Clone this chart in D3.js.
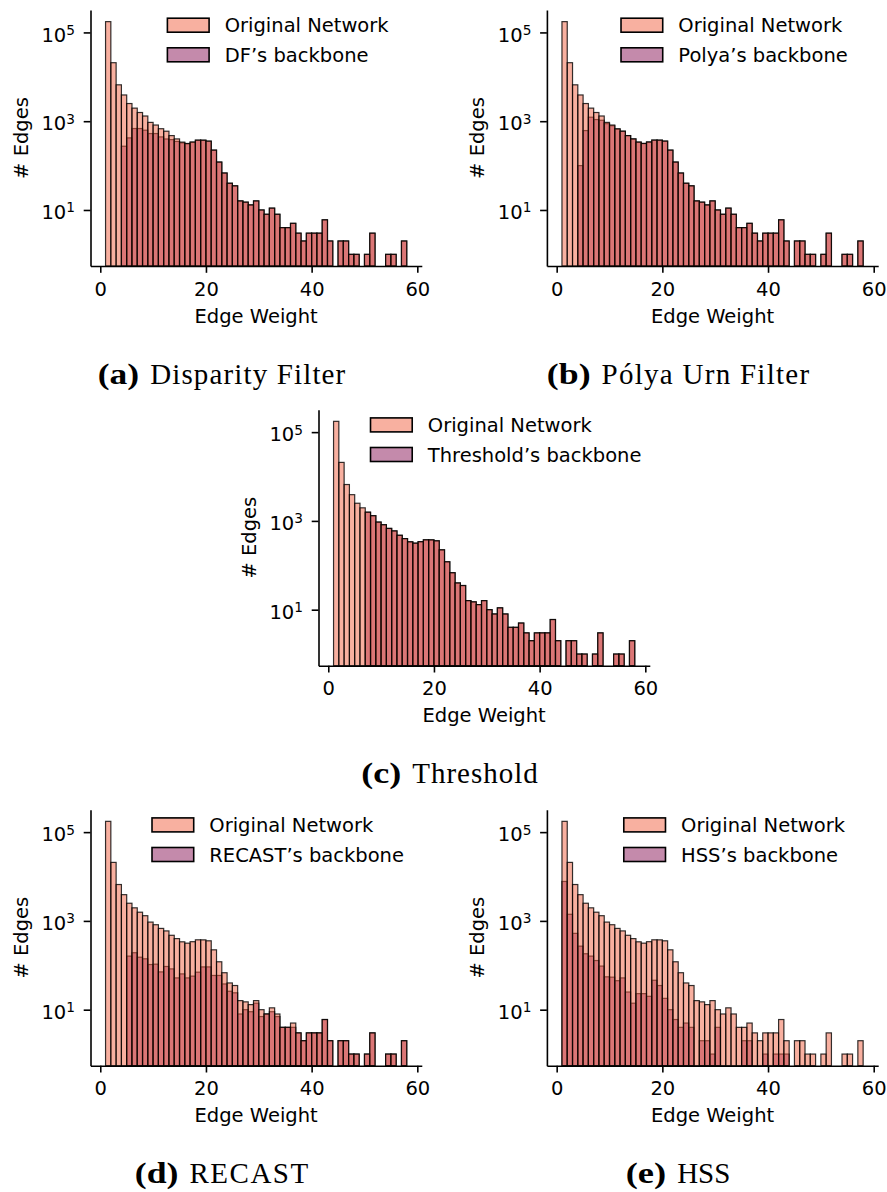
<!DOCTYPE html>
<html><head><meta charset="utf-8">
<script src="https://cdn.jsdelivr.net/npm/d3@7"></script>
<style>body{margin:0;background:#fff} svg{display:block}</style>
</head><body>
<svg id="c" width="887" height="1192"></svg>
<script>
// ---------- data ----------
const binStarts = d3.range(1, 58); // bins [k, k+1), last bin [57,58]
const original = [175000,20800,6600,3900,2500,1970,1570,1310,940,820,
  677,595,474,399,338,315,340,375,374,356,
  223,120,68,40,35,16,15,13,16,10,
  8,11,8,4,4,5,3,2,3,3,
  3,6,2,0,2,2,1,1,0,1,
  3,0,0,1,1,0,2];
const dfBackbone = [0,0,0,273,421,684,684,627,527,527,
  443,398,385,350,325,310,335,372,372,354,
  223,120,68,40,35,16,15,13,16,10,
  8,11,8,4,4,5,3,2,3,3,
  3,6,2,0,2,2,1,1,0,1,
  3,0,0,1,1,0,2];
const polyaBackbone = [0,0,0,100,615,1230,1090,1050,880,790,
  660,595,474,399,338,315,340,375,374,356,
  223,120,68,40,35,16,15,13,16,10,
  8,11,8,4,4,5,3,2,3,3,
  3,6,2,0,2,2,1,1,0,1,
  3,0,0,1,1,0,2];
const thresholdBackbone = [0,0,0,0,0,0,1570,1310,940,820,
  677,595,474,399,338,315,340,375,374,356,
  223,120,68,40,35,16,15,13,16,10,
  8,11,8,4,4,5,3,2,3,3,
  3,6,2,0,2,2,1,1,0,1,
  3,0,0,1,1,0,2];
const recastBackbone = [0,0,0,0,161,192,152,140,104,106,
  71,94,83,52,64,52,57,70,92,92,
  59,59,38,26,24,8,10,9,14,7,
  8,9,7,4,4,4,3,2,3,3,
  3,6,2,0,2,2,1,1,0,1,
  3,0,0,1,1,0,2];
const hssBackbone = [7740,1409,524,270,182,161,128,96,55,54,
  45,52,25,14,23,23,20,46,35,18,
  10,6,4,5,4,0,2,2,1,4,
  0,0,0,0,2,2,0,0,1,0,
  1,1,1,0,0,0,0,0,0,0,
  0,0,0,0,0,0,0];
const xTicks = [0, 20, 40, 60];
const yTicks = [1e1, 1e3, 1e5];
const originalLabel = "Original Network";
const backboneLabels = ["DF’s backbone", "Polya’s backbone", "Threshold’s backbone", "RECAST’s backbone", "HSS’s backbone"];
const captionTags = ["(a)", "(b)", "(c)", "(d)", "(e)"];
const captionTexts = ["Disparity Filter", "Pólya Urn Filter", "Threshold", "RECAST", "HSS"];
const backbones = [dfBackbone, polyaBackbone, thresholdBackbone, recastBackbone, hssBackbone];

// ---------- layout / style ----------
const FONT = "DejaVu Sans";
const SERIF = "Liberation Serif, serif";
const FS = 19.5;
const colOrig = "rgb(241,97,65)", colBack = "rgb(137,21,87)";
const AW = 331.3, AH = 256;
const layout = [
  {dx: 0,     dy: 0,     cx: 221.5, tagW: 41.4, txtW: 195.1, cy: 383.5},
  {dx: 456.4, dy: 0,     cx: 678,   tagW: 43.7, txtW: 207.6, cy: 383.5},
  {dx: 228,   dy: 399.7, cx: 449.5, tagW: 40.0, txtW: 125.3, cy: 782.5},
  {dx: 0,     dy: 799.7, cx: 221.5, tagW: 43.7, txtW: 118.8, cy: 1182.5},
  {dx: 456.4, dy: 799.7, cx: 678,   tagW: 40.5, txtW: 53.1,  cy: 1182.5}
];
const capGap = 11;

const svg = d3.select("#c");

layout.forEach((L, pi) => {
  const backbone = backbones[pi];
  const left = 90.5 + L.dx, top = 10 + L.dy, right = left + AW, bottom = top + AH;
  const lo = d3.min(binStarts), hi = d3.max(binStarts) + 1;
  const mx = 0.05 * (hi - lo);
  const x = d3.scaleLinear().domain([lo - mx, hi + mx]).range([left, right]);
  const all = original.concat(backbone).filter(v => v > 0);
  const lmin = Math.log10(d3.min(all)), lmax = Math.log10(d3.max(all));
  const my = 0.05 * (lmax - lmin);
  const y = d3.scaleLog().domain([Math.pow(10, lmin - my), Math.pow(10, lmax + my)]).range([bottom, top]);

  const g = svg.append("g");
  function drawBars(vals, color) {
    g.append("g").selectAll("rect")
      .data(binStarts.map((b, i) => ({b, v: vals[i]})).filter(d => d.v > 0))
      .join("rect")
      .attr("x", d => x(d.b)).attr("width", d => x(d.b + 1) - x(d.b))
      .attr("y", d => y(d.v)).attr("height", d => bottom - y(d.v))
      .attr("fill", color).attr("fill-opacity", 0.5)
      .attr("stroke", "#000").attr("stroke-opacity", 0.8).attr("stroke-width", 1.2);
  }
  drawBars(backbone, colBack);
  drawBars(original, colOrig);

  // axes
  const xa = g.append("g").attr("transform", `translate(0,${bottom})`)
    .call(d3.axisBottom(x).tickValues(xTicks).tickSize(6.8).tickSizeOuter(0).tickPadding(9));
  const ya = g.append("g").attr("transform", `translate(${left},0)`)
    .call(d3.axisLeft(y).tickValues(yTicks).tickSize(6.8).tickSizeOuter(0).tickFormat(() => ""));
  [xa, ya].forEach(a => {
    a.selectAll("path,line").attr("stroke", "#000").attr("stroke-width", 1.6);
    a.selectAll("text").attr("font-family", FONT).attr("font-size", FS).attr("fill", "#000");
  });
  ya.selectAll(".tick").each(function(v) {
    const t = d3.select(this);
    t.select("text").remove();
    const tx = t.append("text").attr("x", -15.5).attr("y", 8.7).attr("text-anchor", "end")
      .attr("font-family", FONT).attr("font-size", FS).attr("fill", "#000");
    tx.append("tspan").text("10");
    tx.append("tspan").attr("font-size", 13.7).attr("dy", -6.7).text(Math.round(Math.log10(v)));
  });

  // axis labels
  g.append("text").attr("x", (left + right) / 2).attr("y", bottom + 56.7).attr("text-anchor", "middle")
    .attr("font-family", FONT).attr("font-size", FS).text("Edge Weight");
  g.append("text").attr("transform", `translate(${left - 62.5},${(top + bottom) / 2}) rotate(-90)`)
    .attr("text-anchor", "middle").attr("font-family", FONT).attr("font-size", FS).text("# Edges");

  // legend
  const labels = [originalLabel, backboneLabels[pi]];
  const colors = [colOrig, colBack];
  const lg = g.append("g");
  const texts = labels.map((s, i) => lg.append("text")
    .attr("y", top + 15.2 + i * 29.6 + 7).attr("font-family", FONT).attr("font-size", FS).text(s));
  const maxW = d3.max(texts, t => t.node().getComputedTextLength());
  const contentW = 41.7 + 15.6 + maxW;
  const cl = left + 187.5 - contentW / 2;
  texts.forEach(t => t.attr("x", cl + 57.3));
  labels.forEach((s, i) => lg.append("rect")
    .attr("x", cl).attr("y", top + 15.2 + i * 29.6 - 7).attr("width", 41.7).attr("height", 14)
    .attr("fill", colors[i]).attr("fill-opacity", 0.5).attr("stroke", "#000").attr("stroke-width", 1.6));

  // caption
  const total = L.tagW + capGap + L.txtW;
  const x0 = L.cx - total / 2;
  svg.append("text").attr("x", x0).attr("y", L.cy).attr("font-family", SERIF).attr("font-size", 29)
    .attr("font-weight", "bold").attr("textLength", L.tagW).attr("lengthAdjust", "spacingAndGlyphs")
    .text(captionTags[pi]);
  svg.append("text").attr("x", x0 + L.tagW + capGap).attr("y", L.cy).attr("font-family", SERIF).attr("font-size", 29)
    .attr("textLength", L.txtW).attr("lengthAdjust", "spacing")
    .text(captionTexts[pi]);
});
</script>
</body></html>
